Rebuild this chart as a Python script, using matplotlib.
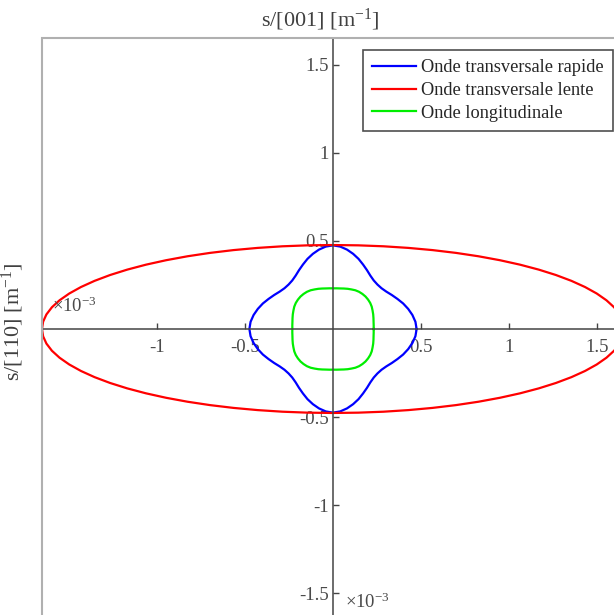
import numpy as np
import matplotlib
matplotlib.use("Agg")
import matplotlib.pyplot as plt
from matplotlib.patches import Rectangle

plt.rcParams['font.family'] = ['Liberation Serif', 'DejaVu Serif']
plt.rcParams['mathtext.fontset'] = 'custom'
plt.rcParams['mathtext.rm'] = 'Liberation Serif'
plt.rcParams['mathtext.it'] = 'Liberation Serif:italic'

# slowness radii (x1e-3 s/m) read every 5 deg from 0 to 45 deg, cubic symmetry
oct_angles = [0, 5, 10, 15, 20, 25, 30, 35, 40, 45]
r_rapide = [0.475, 0.470, 0.458, 0.442, 0.424, 0.404, 0.386, 0.370, 0.360, 0.357]
r_longi = [0.231, 0.232, 0.234, 0.238, 0.243, 0.248, 0.254, 0.258, 0.260, 0.261]

# slow transverse wave, first quadrant points (x1e-3 s/m)
x_lente = [1.653, 1.6467, 1.6279, 1.5967, 1.5533, 1.4981, 1.4315, 1.3541, 1.2663, 1.1688,
           1.0625, 0.9481, 0.8265, 0.6986, 0.5654, 0.4278, 0.2870, 0.1441, 0.0]
y_lente = [0.0, 0.0416, 0.0828, 0.1235, 0.1631, 0.2016, 0.2385, 0.2736, 0.3066, 0.3373,
           0.3654, 0.3907, 0.4131, 0.4323, 0.4482, 0.4607, 0.4698, 0.4752, 0.477]

labels = ['Onde transversale rapide', 'Onde transversale lente', 'Onde longitudinale']
xticks = [-1, -0.5, 0.5, 1, 1.5]
xtick_labels = ['-1', '-0.5', '0.5', '1', '1.5']
yticks = [-1.5, -1, -0.5, 0.5, 1, 1.5]
ytick_labels = ['-1.5', '-1', '-0.5', '0.5', '1', '1.5']
lim = 1.653


def polar_closed(r_oct):
    # mirror the 0-45 deg values about the diagonal, then repeat per quadrant
    r_oct = np.asarray(r_oct)
    r_q = np.concatenate([r_oct, r_oct[-2::-1]])
    r = np.concatenate([r_q[:-1]] * 4 + [r_q[:1]])
    th = np.deg2rad(np.arange(len(r)) * 5.0)
    return r * np.cos(th), r * np.sin(th)


def quad_closed(xq, yq):
    xq = np.asarray(xq)
    yq = np.asarray(yq)
    x = np.concatenate([xq, -xq[::-1][1:], -xq[1:], xq[::-1][1:]])
    y = np.concatenate([yq, yq[::-1][1:], -yq[1:], -yq[::-1][1:]])
    return x, y


W, H = 614, 615
fig = plt.figure(figsize=(W / 100, H / 100), dpi=100)
ax = fig.add_axes([42 / W, 1 - 620 / H, 582 / W, 582 / H])

xb, yb = polar_closed(r_rapide)
xr, yr = quad_closed(x_lente, y_lente)
xg, yg = polar_closed(r_longi)
ax.plot(xb, yb, color='#0000ff', lw=1.6, label=labels[0])
ax.plot(xr, yr, color='#ff0000', lw=1.6, label=labels[1])
ax.plot(xg, yg, color='#00ee00', lw=1.6, label=labels[2])

ax.set_xlim(-lim, lim)
ax.set_ylim(-lim, lim)

for s in ['top', 'right']:
    ax.spines[s].set_visible(False)
for s in ['left', 'bottom']:
    ax.spines[s].set_position('zero')
    ax.spines[s].set_color('#444444')
    ax.spines[s].set_linewidth(1.1)
ax.add_patch(Rectangle((0, 0), 1, 1, transform=ax.transAxes, fill=False,
                       edgecolor='#b0b0b0', lw=1.5, clip_on=False, zorder=5))

ax.set_xticks(xticks)
ax.set_xticklabels(xtick_labels)
ax.set_yticks(yticks)
ax.set_yticklabels(ytick_labels)
ax.tick_params(direction='in', length=4, width=1, color='#444444',
               labelcolor='#4a4a4a', labelsize=13.5)
ax.tick_params(axis='x', pad=7)
ax.tick_params(axis='y', pad=3)

fig.text(320 / W, 1 - 20 / H, 's/[001] [m$^{\\mathrm{-1}}$]', ha='center', va='center',
         fontsize=16, color='#404040')
fig.text(13 / W, 1 - 322 / H, 's/[110] [m$^{\\mathrm{-1}}$]', ha='center', va='center',
         rotation=90, fontsize=16, color='#404040')
fig.text(52 / W, 1 - 312 / H, '$\\mathrm{\\times10^{-3}}$', ha='left', va='baseline',
         fontsize=13.5, color='#4a4a4a')
fig.text(345 / W, 1 - 608 / H, '$\\mathrm{\\times10^{-3}}$', ha='left', va='baseline',
         fontsize=13.5, color='#4a4a4a')

leg = ax.legend(loc='upper left', bbox_to_anchor=(363 / W, 1 - 50 / H),
                bbox_transform=fig.transFigure, fontsize=13.2, frameon=True,
                fancybox=False, handlelength=2.4, handletextpad=0.25,
                labelspacing=0.32, borderpad=0.5, borderaxespad=0)
leg.get_frame().set_edgecolor('#222222')
leg.get_frame().set_linewidth(1.2)
for t in leg.get_texts():
    t.set_color('#262626')

fig.savefig('out.png', dpi=100)
